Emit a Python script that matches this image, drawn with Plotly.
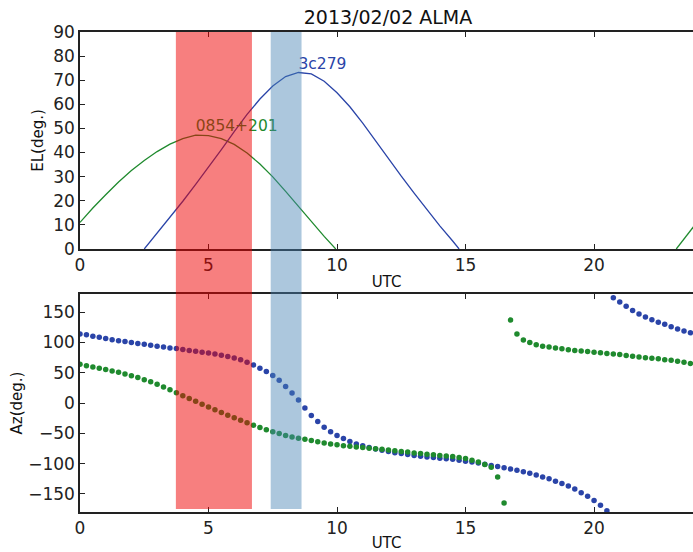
import plotly.graph_objects as go

# elevation curves (UTC hours, degrees)
el_hours_0854 = [0.0, 0.5, 1.0, 1.5, 2.0, 2.5, 3.0, 3.5, 4.0, 4.5, 5.0, 5.5, 6.0, 6.5,
                 7.0, 7.5, 8.0, 8.5, 9.0, 9.5, 9.95]
el_0854 = [11, 17, 22.5, 27.8, 32.5, 36.7, 40.4, 43.5, 45.8, 47.2, 47.0, 45.8, 43.4, 39.8,
           35.2, 29.9, 23.9, 17.6, 11.5, 5.2, 0]
el_hours_0854_late = [23.2, 23.5, 24.0]
el_0854_late = [0, 4.2, 11]
el_hours_3c279 = [2.5, 3.0, 3.5, 4.0, 4.5, 5.0, 5.5, 6.0, 6.5, 7.0, 7.5, 8.0, 8.5, 9.0,
                  9.5, 10.0, 10.5, 11.0, 11.5, 12.0, 12.5, 13.0, 13.5, 14.0, 14.5, 14.75]
el_3c279 = [0, 6.5, 13, 19.8, 26.8, 33.8, 41.2, 48.7, 55.8, 62.2, 67.6, 71.5, 73.2, 72.6,
            69.6, 64.8, 59, 52.2, 44.8, 37.2, 30.2, 23.2, 16.2, 9.6, 3.3, 0]

# azimuth samples every 15 min
az_hours = [0.0, 0.25, 0.5, 0.75, 1.0, 1.25, 1.5, 1.75, 2.0, 2.25, 2.5, 2.75,
            3.0, 3.25, 3.5, 3.75, 4.0, 4.25, 4.5, 4.75, 5.0, 5.25, 5.5, 5.75,
            6.0, 6.25, 6.5, 6.75, 7.0, 7.25, 7.5, 7.75, 8.0, 8.25, 8.5, 8.75,
            9.0, 9.25, 9.5, 9.75, 10.0, 10.25, 10.5, 10.75, 11.0, 11.25, 11.5, 11.75,
            12.0, 12.25, 12.5, 12.75, 13.0, 13.25, 13.5, 13.75, 14.0, 14.25, 14.5, 14.75,
            15.0, 15.25, 15.5, 15.75, 16.0, 16.25, 16.5, 16.75, 17.0, 17.25, 17.5, 17.75,
            18.0, 18.25, 18.5, 18.75, 19.0, 19.25, 19.5, 19.75, 20.0, 20.25, 20.5, 20.75,
            21.0, 21.25, 21.5, 21.75, 22.0, 22.25, 22.5, 22.75, 23.0, 23.25, 23.5, 23.75, 24.0]
az_3c279 = [114, 113, 110.5, 108.5, 106.5, 104.5, 103, 101.5, 100, 98.5, 97, 95.5,
            94, 92.5, 91, 90, 88.5, 87, 85.5, 84, 82.5, 81, 79, 77,
            74.5, 71.5, 67.5, 63, 57.5, 52, 45.5, 37.5, 27.5, 16.5, 5, -8,
            -20.5, -30.5, -40, -47.5, -53.5, -58.5, -63.5, -67.5, -70.5, -73.5, -76, -78,
            -80, -82, -83.5, -85, -86.5, -88, -89, -90, -91, -92, -93, -94.5,
            -96, -97.5, -99, -101, -103, -105, -107, -109, -111, -113.5, -116, -119,
            -122, -125, -129, -133, -137, -142, -148, -154, -161, -169, -178, 174,
            167, 160, 153, 147, 142, 137.5, 133.5, 130, 126, 122.5, 119, 116, 113]
az_0854 = [64, 61.5, 59.5, 57.5, 55.5, 53, 51, 48, 45, 42, 38.5, 35,
           31, 26.5, 22, 17, 12, 7.5, 3, -2, -6.5, -11, -15.5, -20,
           -24.5, -28.5, -32.5, -36.5, -40.5, -44, -47.5, -50.5, -53.5, -56, -58, -60,
           -62, -64, -66, -67.5, -69, -70.5, -71.5, -72.5, -73.5, -74.5, -75.5, -76.5,
           -77.5, -79, -80, -81, -82.5, -83.5, -84.5, -85.5, -86.5, -87.5, -88.5, -90,
           -91.5, -94.5, -97.5, -101.5, -106, -122, -165, 137, 114, 104, 100, 96.5,
           94, 92.5, 91, 89.5, 88, 87, 86, 85, 84, 83, 82, 81,
           80, 78.5, 77.5, 76, 75, 74, 73, 71.5, 70.5, 69, 67.5, 65.5, 64]

# observing windows (UTC hours)
windows = [(3.73, 6.69, 'rgba(240,0,0,0.5)'), (7.42, 8.62, 'rgba(70,130,180,0.45)')]

GREEN = '#1f8a2e'
BLUE = '#2a44a8'
FONT = 'DejaVu Sans'

data = [
    go.Scatter(x=el_hours_0854, y=el_0854, mode='lines', line=dict(color=GREEN, width=1.3),
               xaxis='x', yaxis='y'),
    go.Scatter(x=el_hours_0854_late, y=el_0854_late, mode='lines',
               line=dict(color=GREEN, width=1.3), xaxis='x', yaxis='y'),
    go.Scatter(x=el_hours_3c279, y=el_3c279, mode='lines', line=dict(color=BLUE, width=1.3),
               xaxis='x', yaxis='y'),
    go.Scatter(x=[4.5], y=[47.2], mode='text', text=['0854+201'], textposition='top right',
               textfont=dict(color=GREEN, size=15.5, family=FONT), xaxis='x', yaxis='y'),
    go.Scatter(x=[8.5], y=[73.2], mode='text', text=['3c279'], textposition='top right',
               textfont=dict(color=BLUE, size=15.5, family=FONT), xaxis='x', yaxis='y'),
    go.Scatter(x=az_hours, y=az_3c279, mode='markers', marker=dict(color=BLUE, size=5.5),
               xaxis='x2', yaxis='y2'),
    go.Scatter(x=az_hours, y=az_0854, mode='markers', marker=dict(color=GREEN, size=5.5),
               xaxis='x2', yaxis='y2'),
]

axis_style = dict(showline=True, linecolor='#222', linewidth=1.5, ticks='inside',
                  ticklen=5, tickcolor='#222', showgrid=False, zeroline=False,
                  automargin=False, tickfont=dict(family=FONT, size=17, color='#222'))
title_font = dict(family=FONT, size=15, color='#111')

shapes = [dict(type='rect', xref='x', yref='paper', x0=a, x1=b, y0=0.006, y1=1,
               fillcolor=c, line_width=0, layer='above') for a, b, c in windows]

W, H = 693, 552
layout = go.Layout(
    width=W, height=H, showlegend=False, hovermode=False,
    paper_bgcolor='white', plot_bgcolor='white',
    margin=dict(l=80, r=0, t=32, b=40, autoexpand=False),
    title=dict(text='2013/02/02 ALMA', x=388 / W, xref='container', xanchor='center',
               y=1 - 17 / H, yref='container', yanchor='middle',
               font=dict(family=FONT, size=19, color='#111')),
    xaxis=dict(axis_style, domain=[0, 1], range=[0, 23.85], anchor='y', mirror='ticks',
               tickvals=[0, 5, 10, 15, 20],
               title=dict(text='UTC', standoff=2, font=title_font)),
    yaxis=dict(axis_style, domain=[0.548, 1], range=[0, 90], anchor='x', dtick=10,
               title=dict(text='EL(deg.)', standoff=6, font=title_font)),
    xaxis2=dict(axis_style, domain=[0, 1], range=[0, 23.85], anchor='y2', mirror='ticks',
                tickvals=[0, 5, 10, 15, 20],
                title=dict(text='UTC', standoff=2, font=title_font)),
    yaxis2=dict(axis_style, domain=[0, 0.454], range=[-180, 180], anchor='x2',
                tickvals=[-150, -100, -50, 0, 50, 100, 150],
                title=dict(text='Az(deg.)', standoff=2, font=title_font)),
    shapes=shapes,
)

fig = go.Figure(data=data, layout=layout)
# drop the default body margin so the figure sits at the window's top-left corner
fig.write_html('out.html', config={'displayModeBar': False},
               post_script="document.body.style.margin = '0';")
